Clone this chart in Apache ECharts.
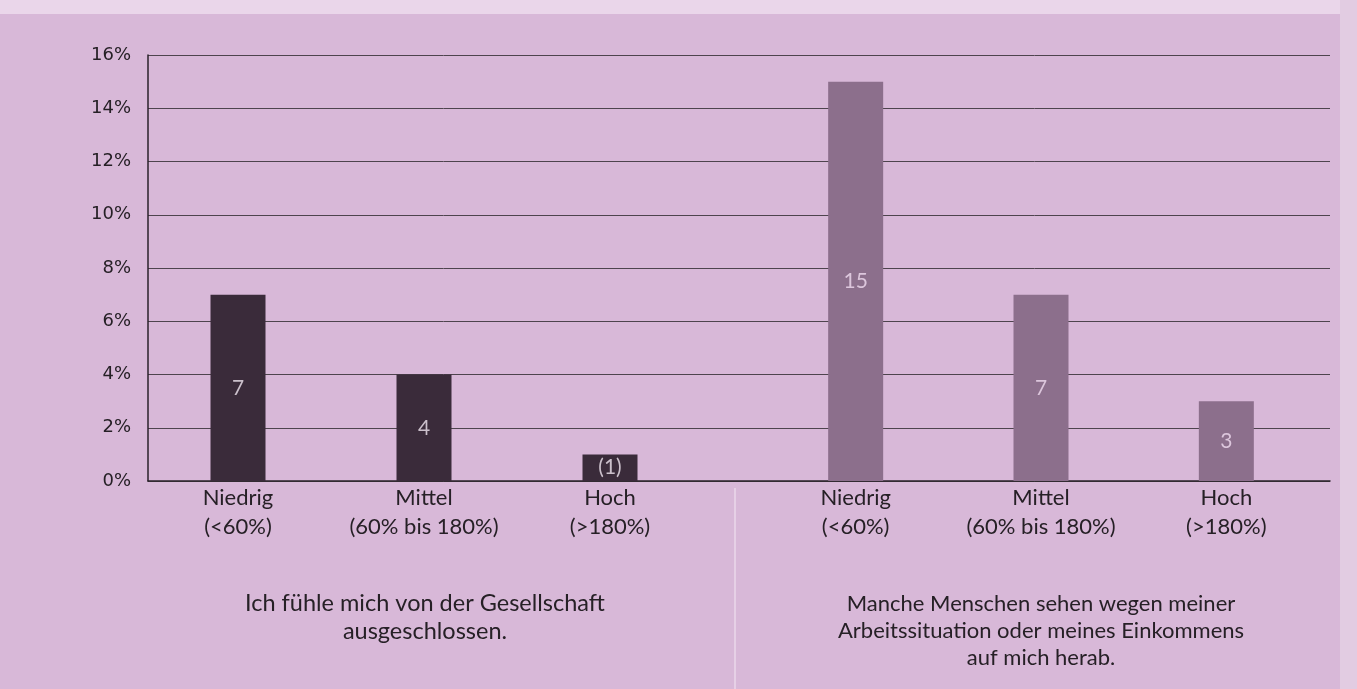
<!DOCTYPE html>
<html><head><meta charset="utf-8">
<script src="https://cdn.jsdelivr.net/npm/echarts@6/dist/echarts.min.js"></script>
<style>html,body{margin:0;padding:0;background:#d8b8d8}#c{width:1357px;height:689px}</style>
</head><body><div id="c"></div>
<script>
const categories = ['Niedrig\n(<60%)', 'Mittel\n(60% bis 180%)', 'Hoch\n(>180%)'];
const excludedValues = [7, 4, 1];
const excludedLabels = ['7', '4', '(1)'];
const lookedDownValues = [15, 7, 3];
const lookedDownLabels = ['15', '7', '3'];
const yMin = 0, yMax = 16, yStep = 2;
const groupTitleLeft = 'Ich fühle mich von der Gesellschaft\nausgeschlossen.';
const groupTitleRight = 'Manche Menschen sehen wegen meiner\nArbeitssituation oder meines Einkommens\nauf mich herab.';

const FONT = 'Lato, "Open Sans", sans-serif';
const chart = echarts.init(document.getElementById('c'), null, {renderer: 'canvas'});

const hiddenY = i => ({type: 'value', gridIndex: i, min: yMin, max: yMax, interval: yStep, show: false});
const catX = i => ({
  type: 'category', gridIndex: i, data: categories,
  axisLine: {show: false}, axisTick: {show: false},
  axisLabel: {color: '#262026', fontSize: 22, lineHeight: 29, margin: 2, fontFamily: FONT, interval: 0}
});
const barSeries = (i, vals, labels, color, labelColor) => ({
  type: 'bar', xAxisIndex: i, yAxisIndex: i, data: vals, barWidth: 55,
  itemStyle: {color: color},
  label: {show: true, position: 'inside', color: labelColor, fontSize: 21, fontFamily: FONT,
          formatter: p => labels[p.dataIndex]},
  silent: true, animation: false
});

chart.setOption({
  backgroundColor: '#d8b8d8',
  animation: false,
  grid: [
    {left: 148, top: 55, width: 1182, height: 426},
    {left: 145, top: 55, width: 558, height: 426},
    {left: 763, top: 55, width: 556, height: 426}
  ],
  xAxis: [
    {type: 'category', gridIndex: 0, data: [''], axisLine: {show: true, lineStyle: {color: '#2a222a', width: 1.5}},
     axisTick: {show: false}, axisLabel: {show: false}},
    catX(1), catX(2)
  ],
  yAxis: [
    {type: 'value', gridIndex: 0, min: yMin, max: yMax, interval: yStep,
     axisLine: {show: true, lineStyle: {color: '#2a222a', width: 1.5}}, axisTick: {show: false},
     axisLabel: {formatter: '{value}%', color: '#262026', fontSize: 18, margin: 17, fontFamily: '"DejaVu Sans", sans-serif'},
     splitLine: {show: true, lineStyle: {color: '#4e444e', width: 1}}},
    hiddenY(1), hiddenY(2)
  ],
  graphic: [
    {type: 'rect', shape: {x: 0, y: 0, width: 1357, height: 14}, style: {fill: '#ead6ea'}, silent: true},
    {type: 'rect', shape: {x: 1340, y: 0, width: 17, height: 689}, style: {fill: '#e2cce2'}, silent: true},
    {type: 'line', shape: {x1: 735, y1: 488, x2: 735, y2: 689}, style: {stroke: '#e6d0e6', lineWidth: 2}, silent: true},
    {type: 'text', x: 425, y: 589, style: {text: groupTitleLeft, textAlign: 'center', fill: '#262026', fontSize: 23.5, lineHeight: 28, fontFamily: FONT}},
    {type: 'text', x: 1041, y: 590, style: {text: groupTitleRight, textAlign: 'center', fill: '#262026', fontSize: 22, lineHeight: 27, fontFamily: FONT}}
  ],
  series: [
    {type: 'bar', xAxisIndex: 0, yAxisIndex: 0, data: [], silent: true},
    barSeries(1, excludedValues, excludedLabels, '#3a2b3a', '#cbc0cb'),
    barSeries(2, lookedDownValues, lookedDownLabels, '#8c6f8c', '#dcc6dc')
  ]
});
</script></body></html>
